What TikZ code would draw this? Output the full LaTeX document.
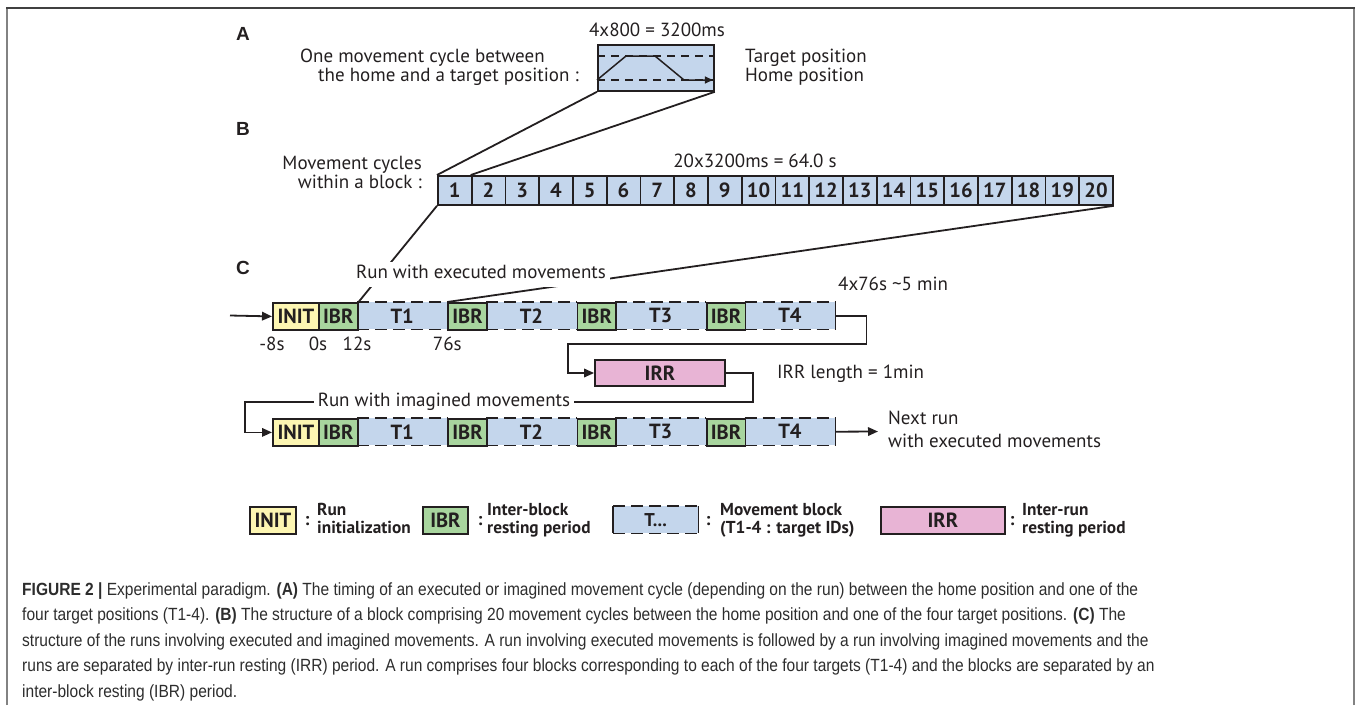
\documentclass[tikz,border=0pt]{standalone}
\usepackage{fontspec}
\setmainfont{PT Sans}
\newfontfamily\capfont[FakeStretch=0.88]{Liberation Sans}
\newfontfamily\panelfont{Liberation Sans}
\usetikzlibrary{arrows.meta}
\definecolor{blk}{RGB}{196,214,236}
\definecolor{ini}{RGB}{253,246,178}
\definecolor{ibrc}{RGB}{168,213,158}
\definecolor{irrc}{RGB}{232,180,213}
\definecolor{ink}{RGB}{35,31,32}
\definecolor{capink}{RGB}{45,45,45}
\definecolor{framec}{RGB}{130,130,130}
\tikzset{
 txt/.style={inner sep=0pt, text=ink, font=\fontsize{19}{19}\selectfont, text height=13pt, text depth=4pt},
 seg/.style={inner sep=0pt, minimum height=27pt, anchor=north west, font=\bfseries\fontsize{20.5}{20.5}\selectfont, text=ink},
 initbox/.style={seg, draw=ink, line width=1.8pt, fill=ini, minimum width=46pt},
 ibrbox/.style={seg, draw=ink, line width=1.8pt, fill=ibrc, minimum width=38.75pt},
 tbox/.style={seg, fill=blk, minimum width=90.5pt},
 dashline/.style={draw=ink, line width=1.8pt, dash pattern=on 12pt off 6pt},
 thindash/.style={draw=ink, line width=1.1pt, dash pattern=on 8pt off 6pt},
 edge/.style={draw=ink, line width=1.8pt},
 arr/.style={edge, -{Triangle[length=10pt,width=8.5pt]}},
 cellbox/.style={draw=ink, line width=1.8pt, fill=blk, minimum width=33.75pt, minimum height=29pt, inner sep=0pt, anchor=north west, font=\bfseries\fontsize{20.5}{20.5}\selectfont, text=ink},
 panel/.style={inner sep=0pt, font=\panelfont\bfseries\fontsize{19}{19}\selectfont, text=ink},
 legline/.style={inner sep=0pt, anchor=base west, font=\bfseries\fontsize{17.3}{17.3}\selectfont, text=ink},
 colon/.style={inner sep=0pt, font=\bfseries\fontsize{18}{18}\selectfont, text=ink},
 capline/.style={inner sep=0pt, anchor=base west, font=\capfont\fontsize{17.65}{20}\selectfont, text=capink},
}
\newcommand\runrow[2]{%
 \node[tbox] (#1t1) at (356.75,#2) {T1};
 \node[tbox] (#1t2) at (486,#2) {T2};
 \node[tbox] (#1t3) at (615.25,#2) {T3};
 \node[tbox] (#1t4) at (744.5,#2) {T4};
 \foreach \k in {1,...,4}{
   \draw[dashline] (#1t\k.north west) -- (#1t\k.north east);
   \draw[dashline] (#1t\k.south west) -- (#1t\k.south east);
 }
 \draw[edge] (#1t4.north east) -- (#1t4.south east);
 \node[initbox] (#1init) at (272,#2) {INIT};
 \node[ibrbox] (#1b1) at (318,#2) {IBR};
 \node[ibrbox] (#1b2) at (447.25,#2) {IBR};
 \node[ibrbox] (#1b3) at (576.5,#2) {IBR};
 \node[ibrbox] (#1b4) at (705.75,#2) {IBR};
}
\begin{document}
\begin{tikzpicture}[x=1pt,y=-1pt]
\useasboundingbox (0,0) rectangle (1360,705);
% frame
\draw[framec, line width=1.5pt] (7,705) -- (7,8);
\draw[framec, line width=1.5pt] (1354,705) -- (1354,8);
\draw[black!75, line width=1.6pt] (6,8) -- (1355,8);

% ---------- panel labels
\node[panel] (pa) at (243,34) {A};
\node[panel] (pb) at (243,129) {B};
\node[panel] (pc) at (243,268) {C};

% ---------- panel A
\node[draw=ink, line width=1.8pt, fill=blk, minimum width=116pt, minimum height=46pt, inner sep=0pt, anchor=north west] (cyc) at (597,44) {};
\draw[thindash] (cyc.west |- 0,56) -- (cyc.east |- 0,56);
\draw[thindash] (cyc.west |- 0,80) -- (cyc.east |- 0,80);
\draw[line width=1.5pt, draw=ink, -{Triangle[length=8pt,width=7pt]}] (cyc.west |- 0,80) -- (626,56) -- (655,56) -- (684,80) -- ([xshift=-2pt]cyc.east |- 0,80);
\node[txt] (durA) at (657,32) {4x800 = 3200ms};
\node[txt, anchor=west] (descA1) at (300,58) {One movement cycle between};
\node[txt, anchor=west] (descA2) at (318,77) {the home and a target position :};
\node[txt, anchor=west] (tgt) at (745,58) {Target position};
\node[txt, anchor=west] (hom) at (745,77) {Home position};

% ---------- panel B
\foreach \i in {1,...,20}{
  \node[cellbox] (c\i) at ({437+(\i-1)*33.75},175) {\i};
}
\node[txt] (durB) at (755,163) {20x3200ms = 64.0 s};
\node[txt, anchor=east] (descB1) at (422,165) {Movement cycles};
\node[txt, anchor=east] (descB2) at (422,184) {within a block :};
\draw[edge] (cyc.south west) -- (c1.north west);
\draw[edge] (cyc.south east) -- (c2.north west);

% ---------- panel C rows
\runrow{r}{302}
\runrow{s}{418}

\node[txt] (tm8) at (272,346) {-8s};
\node[txt] (t0) at (318,346) {0s};
\node[txt] (t12) at (357,346) {12s};
\node[txt] (t76) at (447.25,346) {76s};

\node[draw=ink, line width=1.8pt, fill=irrc, minimum width=130pt, minimum height=26pt, inner sep=0pt, font=\bfseries\fontsize{20.5}{20.5}\selectfont, text=ink] (irr) at (660,373) {IRR};

% zoom lines from B to C
\draw[edge] (c1.south west) -- (rb1.north east);
\draw[edge] (c20.south east) -- (rb2.north west);

% connectors
\coordinate (in1) at (230,315.5);
\draw[arr] (in1) -- (rinit.west);
\draw[arr] (rt4.east) -- ++(31,0) |- (568,344) |- (irr.west);
\draw[arr] (irr.east) -- ++(27,0) |- (245,402) |- (sinit.west);
\coordinate (out2) at (878,431.5);
\draw[arr] (st4.east) -- (out2);

% labels over lines
\node[txt, fill=white, inner sep=4pt] (runex) at (481,274) {Run with executed movements};
\node[txt, fill=white, inner sep=4pt] (runim) at (444,402) {Run with imagined movements};
\node[txt, anchor=west] (dur4) at (838,286) {4x76s \char`~5 min};
\node[txt, anchor=west] (irrlen) at (777,374) {IRR length = 1min};
\node[txt, anchor=west] (next1) at (888,420) {Next run};
\node[txt, anchor=west] (next2) at (888,443) {with executed movements};

% ---------- legend
\node[seg, draw=ink, line width=1.8pt, fill=ini, minimum width=46pt] (linit) at (249,506) {INIT};
\node[colon] (col1) at (307,521) {:};
\node[legline] (ltx1a) at (317,515) {Run};
\node[legline] (ltx1b) at (317,533) {initialization};
\node[seg, draw=ink, line width=1.8pt, fill=ibrc, minimum width=45pt] (libr) at (422,506) {IBR};
\node[colon] (col2) at (480,521) {:};
\node[legline] (ltx2a) at (487,515) {Inter-block};
\node[legline] (ltx2b) at (487,533) {resting period};
\node[seg, fill=blk, minimum width=85pt, font=\bfseries\fontsize{18.5}{18.5}\selectfont] (lt) at (613,506) {T...};
\draw[dashline] (lt.north west) -- (lt.north east);
\draw[dashline] (lt.south west) -- (lt.south east);
\draw[edge] (lt.north west) -- (lt.south west);
\draw[edge] (lt.north east) -- (lt.south east);
\node[colon] (col3) at (708,521) {:};
\node[legline] (ltx3a) at (720,515) {Movement block};
\node[legline] (ltx3b) at (720,533) {(T1-4 : target IDs)};
\node[seg, draw=ink, line width=1.8pt, fill=irrc, minimum width=124pt] (lirr) at (880,506) {IRR};
\node[colon] (col4) at (1012,521) {:};
\node[legline] (ltx4a) at (1022,515) {Inter-run};
\node[legline] (ltx4b) at (1022,533) {resting period};

% ---------- caption
\node[capline] (cap1) at (22,595) {\textbf{FIGURE 2 |} Experimental paradigm. \textbf{(A)} The timing of an executed or imagined movement cycle (depending on the run) between the home position and one of the};
\node[capline] (cap2) at (22,620.5) {four target positions (T1-4). \textbf{(B)} The structure of a block comprising 20 movement cycles between the home position and one of the four target positions. \textbf{(C)} The};
\node[capline] (cap3) at (22,646) {structure of the runs involving executed and imagined movements. A run involving executed movements is followed by a run involving imagined movements and the};
\node[capline] (cap4) at (22,671.5) {runs are separated by inter-run resting (IRR) period. A run comprises four blocks corresponding to each of the four targets (T1-4) and the blocks are separated by an};
\node[capline] (cap5) at (22,697) {inter-block resting (IBR) period.};
\end{tikzpicture}
\end{document}
